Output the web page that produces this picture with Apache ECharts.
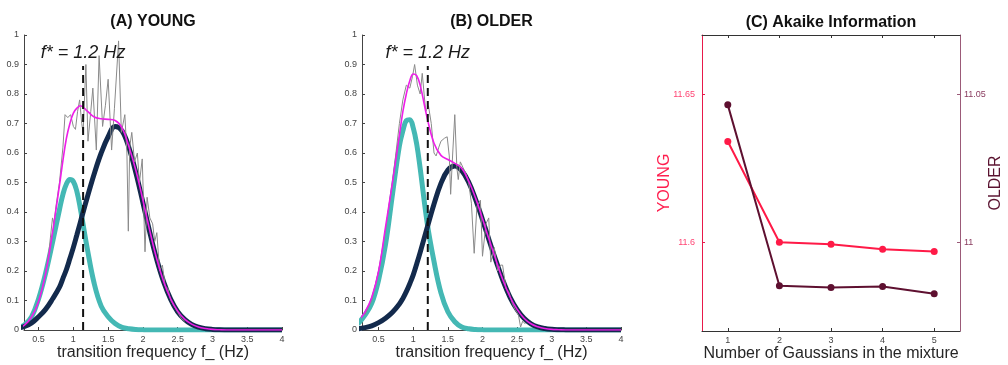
<!DOCTYPE html>
<html><head><meta charset="utf-8">
<script src="https://cdn.jsdelivr.net/npm/echarts@6/dist/echarts.min.js"></script>
<style>html,body{margin:0;padding:0;background:#fff}#c{width:1008px;height:365px}</style>
</head><body><div id="c"></div>
<script>
// ---------- DATA ----------
const freqHz = [0.2,0.3,0.4,0.5,0.6,0.7,0.8,0.85,0.9,0.95,1.0,1.05,1.1,1.2,1.3,1.4,1.5,1.6,1.7,1.8,1.9,2.0,2.1,2.2,2.3,2.4,2.5,2.6,2.7,2.8,2.9,3.0,3.1,3.2,3.3,3.4,3.5,3.6,3.7,3.8,3.9,4.0];

// (A) YOUNG
const youngComp1 = [0.008,0.018,0.045,0.106,0.192,0.297,0.408,0.46,0.495,0.51,0.503,0.47,0.412,0.276,0.157,0.081,0.045,0.022,0.009,0.004,0.0015,0.0005,0,0,0,0,0,0,0,0,0,0,0,0,0,0,0,0,0,0,0,0];
const youngComp2 = [0.007,0.012,0.024,0.045,0.07,0.105,0.145,0.175,0.205,0.242,0.28,0.322,0.365,0.45,0.53,0.6,0.655,0.69,0.675,0.617,0.532,0.432,0.33,0.238,0.162,0.104,0.062,0.036,0.019,0.0096,0.0045,0.002,0.0008,0.0003,0,0,0,0,0,0,0,0];
const youngMixture = [0.008,0.017,0.045,0.097,0.19,0.33,0.49,0.575,0.65,0.70,0.735,0.752,0.76,0.742,0.722,0.716,0.714,0.71,0.685,0.62,0.54,0.44,0.335,0.24,0.163,0.105,0.064,0.037,0.02,0.01,0.005,0.002,0.0008,0,0,0,0,0,0,0,0,0];
const youngHistFreq = [0.45,0.5,0.55,0.6,0.65,0.7,0.72,0.75,0.8,0.85,0.88,0.92,0.96,1.0,1.03,1.06,1.09,1.12,1.14,1.18,1.21,1.25,1.28,1.33,1.37,1.42,1.46,1.5,1.55,1.59,1.65,1.69,1.74,1.77,1.79,1.81,1.84,1.88,1.92,1.95,1.99,2.03,2.06,2.1,2.14,2.17,2.2,2.24,2.28,2.32,2.36,2.4,2.45,2.5,2.55,2.6];
const youngHistVal  = [0.07,0.1,0.14,0.19,0.27,0.38,0.36,0.42,0.5,0.62,0.73,0.72,0.73,0.69,0.68,0.74,0.78,0.7,0.67,0.9,0.64,0.74,0.82,0.61,0.93,0.69,0.76,0.85,0.61,0.75,0.98,0.67,0.73,0.6,0.335,0.62,0.67,0.57,0.6,0.5,0.58,0.265,0.45,0.38,0.36,0.3,0.33,0.2,0.22,0.15,0.14,0.1,0.08,0.06,0.04,0.03];
const youngFStar = 1.14;

// (B) OLDER
const olderComp1 = [0.02,0.05,0.09,0.17,0.29,0.46,0.624,0.675,0.71,0.713,0.685,0.63,0.548,0.365,0.232,0.126,0.062,0.028,0.01,0.004,0.0015,0.0005,0,0,0,0,0,0,0,0,0,0,0,0,0,0,0,0,0,0,0,0];
const olderComp2 = [0.004,0.008,0.014,0.025,0.04,0.06,0.088,0.107,0.13,0.157,0.187,0.224,0.263,0.346,0.427,0.497,0.542,0.556,0.54,0.501,0.443,0.374,0.301,0.231,0.165,0.11,0.069,0.04,0.021,0.0106,0.005,0.0022,0.001,0.0004,0,0,0,0,0,0,0,0];
const olderMixture = [0.03,0.06,0.11,0.2,0.35,0.5,0.66,0.74,0.8,0.845,0.868,0.862,0.83,0.72,0.633,0.592,0.578,0.565,0.548,0.505,0.447,0.377,0.303,0.233,0.166,0.111,0.07,0.04,0.021,0.011,0.005,0.002,0.001,0,0,0,0,0,0,0,0,0];
const olderHistFreq = [0.3,0.4,0.5,0.6,0.7,0.75,0.8,0.85,0.9,0.95,0.99,1.02,1.06,1.1,1.13,1.18,1.22,1.26,1.3,1.33,1.37,1.4,1.45,1.49,1.52,1.54,1.57,1.6,1.63,1.65,1.68,1.72,1.76,1.8,1.84,1.88,1.92,1.97,2.0,2.05,2.09,2.12,2.17,2.22,2.26,2.29,2.34,2.38,2.43,2.47,2.52,2.55,2.58,2.62];
const olderHistVal  = [0.05,0.1,0.2,0.34,0.5,0.6,0.7,0.78,0.83,0.82,0.86,0.9,0.83,0.8,0.87,0.74,0.76,0.7,0.6,0.59,0.62,0.64,0.65,0.655,0.59,0.46,0.6,0.73,0.55,0.51,0.57,0.55,0.53,0.5,0.43,0.26,0.42,0.44,0.25,0.36,0.38,0.23,0.28,0.2,0.22,0.22,0.14,0.13,0.09,0.07,0.05,0.01,0.03,0.02];
const olderFStar = 1.21;
const fStarLineTop = 0.895;
const fStarText = 'f* = 1.2 Hz';

// (C) Akaike information
const nGaussians = [1,2,3,4,5];
const aicYoung = [11.634,11.600,11.5993,11.5976,11.5969];
const aicOlder = [11.0464,10.9853,10.9847,10.985,10.9826];

// tick labels
const freqTicks = [0.5,1,1.5,2,2.5,3,3.5,4];
const youngAicTicks = [11.6,11.65];
const olderAicTicks = [11,11.05];

// ---------- CHART ----------
const FONT = '"Liberation Sans", Arial, Helvetica, sans-serif';
const fmt = v => String(Math.round(v*100)/100);
const zip = (xs, ys) => xs.map((x,i)=>[x, ys[i]]);
const AX = '#444';

function freqXAxis(gi, min){
  return {
    gridIndex: gi, type:'value', min, max:4,
    axisLine:{onZero:false, lineStyle:{color:AX, width:1}},
    axisTick:{show:true, inside:true, length:3, customValues:freqTicks, lineStyle:{color:AX}},
    axisLabel:{customValues:freqTicks, formatter:fmt, fontSize:9, color:AX, margin:5, fontFamily:FONT},
    splitLine:{show:false},
    name:'transition frequency f_ (Hz)', nameLocation:'middle', nameGap:15, nameMoveOverlap:false,
    nameTextStyle:{fontSize:16, color:'#262626', fontFamily:FONT}
  };
}
function densYAxis(gi){
  return {
    gridIndex: gi, type:'value', min:0, max:1, interval:0.1,
    axisLine:{show:true, onZero:false, lineStyle:{color:AX, width:1}},
    axisTick:{show:true, inside:true, length:3, lineStyle:{color:AX}},
    axisLabel:{formatter:fmt, fontSize:9, color:AX, margin:5, fontFamily:FONT},
    splitLine:{show:false}
  };
}
function panelSeries(gi, c1, c2, mix, hf, hv, fStar){
  return [
    {type:'line', xAxisIndex:gi, yAxisIndex:gi, data:zip(freqHz,c1), smooth:0.4, symbol:'none',
     lineStyle:{color:'#44b8b4', width:5}, z:2},
    {type:'line', xAxisIndex:gi, yAxisIndex:gi, data:zip(freqHz,c2), smooth:0.4, symbol:'none',
     lineStyle:{color:'#132a4c', width:5}, z:3},
    {type:'line', xAxisIndex:gi, yAxisIndex:gi, data:zip(hf,hv), symbol:'none',
     lineStyle:{color:'#8a8a8a', width:1}, z:4},
    {type:'line', xAxisIndex:gi, yAxisIndex:gi, data:zip(freqHz,mix), smooth:0.4, symbol:'none',
     lineStyle:{color:'#ee1ee8', width:1.6}, z:5},
    {type:'line', xAxisIndex:gi, yAxisIndex:gi, z:6,
     data:[{value:[fStar,0], symbol:'none'},
           {value:[fStar,fStarLineTop], symbol:'circle', symbolSize:1,
            itemStyle:{color:'rgba(0,0,0,0)'},
            label:{show:true, position:'top', distance:3, formatter:fStarText,
                   fontSize:18, fontStyle:'italic', color:'#1a1a1a', fontFamily:FONT}}],
     lineStyle:{color:'#111', width:2, type:[8,5]}}
  ];
}

const option = {
  animation:false,
  textStyle:{fontFamily:FONT},
  graphic:[
    {type:'text', x:153, y:22, style:{text:'(A) YOUNG', font:'bold 16px '+FONT, fill:'#111', align:'center', verticalAlign:'middle'}},
    {type:'text', x:491.5, y:22, style:{text:'(B) OLDER', font:'bold 16px '+FONT, fill:'#111', align:'center', verticalAlign:'middle'}},
    {type:'text', x:831, y:23, style:{text:'(C) Akaike Information', font:'bold 16px '+FONT, fill:'#111', align:'center', verticalAlign:'middle'}}
  ],
  grid:[
    {left:24, top:35, width:258, height:295, outerBoundsMode:'none'},
    {left:362, top:35, width:259, height:295, outerBoundsMode:'none'},
    {left:702, top:35, width:258, height:296, outerBoundsMode:'none'}
  ],
  xAxis:[
    freqXAxis(0, 0.29),
    freqXAxis(1, 0.26),
    {gridIndex:2, type:'value', min:0.5, max:5.5,
     axisLine:{onZero:false, lineStyle:{color:'#333'}},
     axisTick:{show:true, inside:true, length:3, customValues:nGaussians, lineStyle:{color:'#333'}},
     axisLabel:{customValues:nGaussians, formatter:fmt, fontSize:9, color:AX, margin:5},
     splitLine:{show:false},
     name:'Number of Gaussians in the mixture', nameLocation:'middle', nameGap:15, nameMoveOverlap:false,
     nameTextStyle:{fontSize:16, color:'#262626'}},
    {gridIndex:2, type:'value', position:'top', min:0.5, max:5.5,
     axisLine:{onZero:false, lineStyle:{color:'#333'}},
     axisTick:{show:true, inside:true, length:3, customValues:nGaussians, lineStyle:{color:'#333'}},
     axisLabel:{show:false}, splitLine:{show:false}}
  ],
  yAxis:[
    densYAxis(0),
    densYAxis(1),
    {gridIndex:2, type:'value', position:'left', min:11.57, max:11.67,
     axisLine:{show:true, onZero:false, lineStyle:{color:'#e8194a'}},
     axisTick:{show:true, inside:true, length:3, customValues:youngAicTicks, lineStyle:{color:'#e8194a'}},
     axisLabel:{customValues:youngAicTicks, formatter:fmt, fontSize:9, color:'#ff4473', margin:7},
     splitLine:{show:false},
     name:'YOUNG', nameLocation:'middle', nameGap:29, nameMoveOverlap:false,
     nameTextStyle:{fontSize:16, color:'#ff1f4f'}},
    {gridIndex:2, type:'value', position:'right', min:10.97, max:11.07,
     axisLine:{show:true, onZero:false, lineStyle:{color:'#9b5a78'}},
     axisTick:{show:true, inside:true, length:3, customValues:olderAicTicks, lineStyle:{color:'#9b5a78'}},
     axisLabel:{customValues:olderAicTicks, formatter:fmt, fontSize:9, color:'#8a3d60', margin:4},
     splitLine:{show:false},
     name:'OLDER', nameLocation:'middle', nameGap:28, nameMoveOverlap:false,
     nameTextStyle:{fontSize:16, color:'#5a1330'}}
  ],
  series:[
    ...panelSeries(0, youngComp1, youngComp2, youngMixture, youngHistFreq, youngHistVal, youngFStar),
    ...panelSeries(1, olderComp1, olderComp2, olderMixture, olderHistFreq, olderHistVal, olderFStar),
    {type:'line', xAxisIndex:2, yAxisIndex:2, data:zip(nGaussians, aicYoung), symbol:'circle', symbolSize:7,
     lineStyle:{color:'#ff1a47', width:2}, itemStyle:{color:'#ff1a47'}},
    {type:'line', xAxisIndex:2, yAxisIndex:3, data:zip(nGaussians, aicOlder), symbol:'circle', symbolSize:7,
     lineStyle:{color:'#5e1030', width:2}, itemStyle:{color:'#5e1030'}}
  ]
};
const chart = echarts.init(document.getElementById('c'), null, {renderer:'canvas'});
chart.setOption(option);
</script></body></html>
